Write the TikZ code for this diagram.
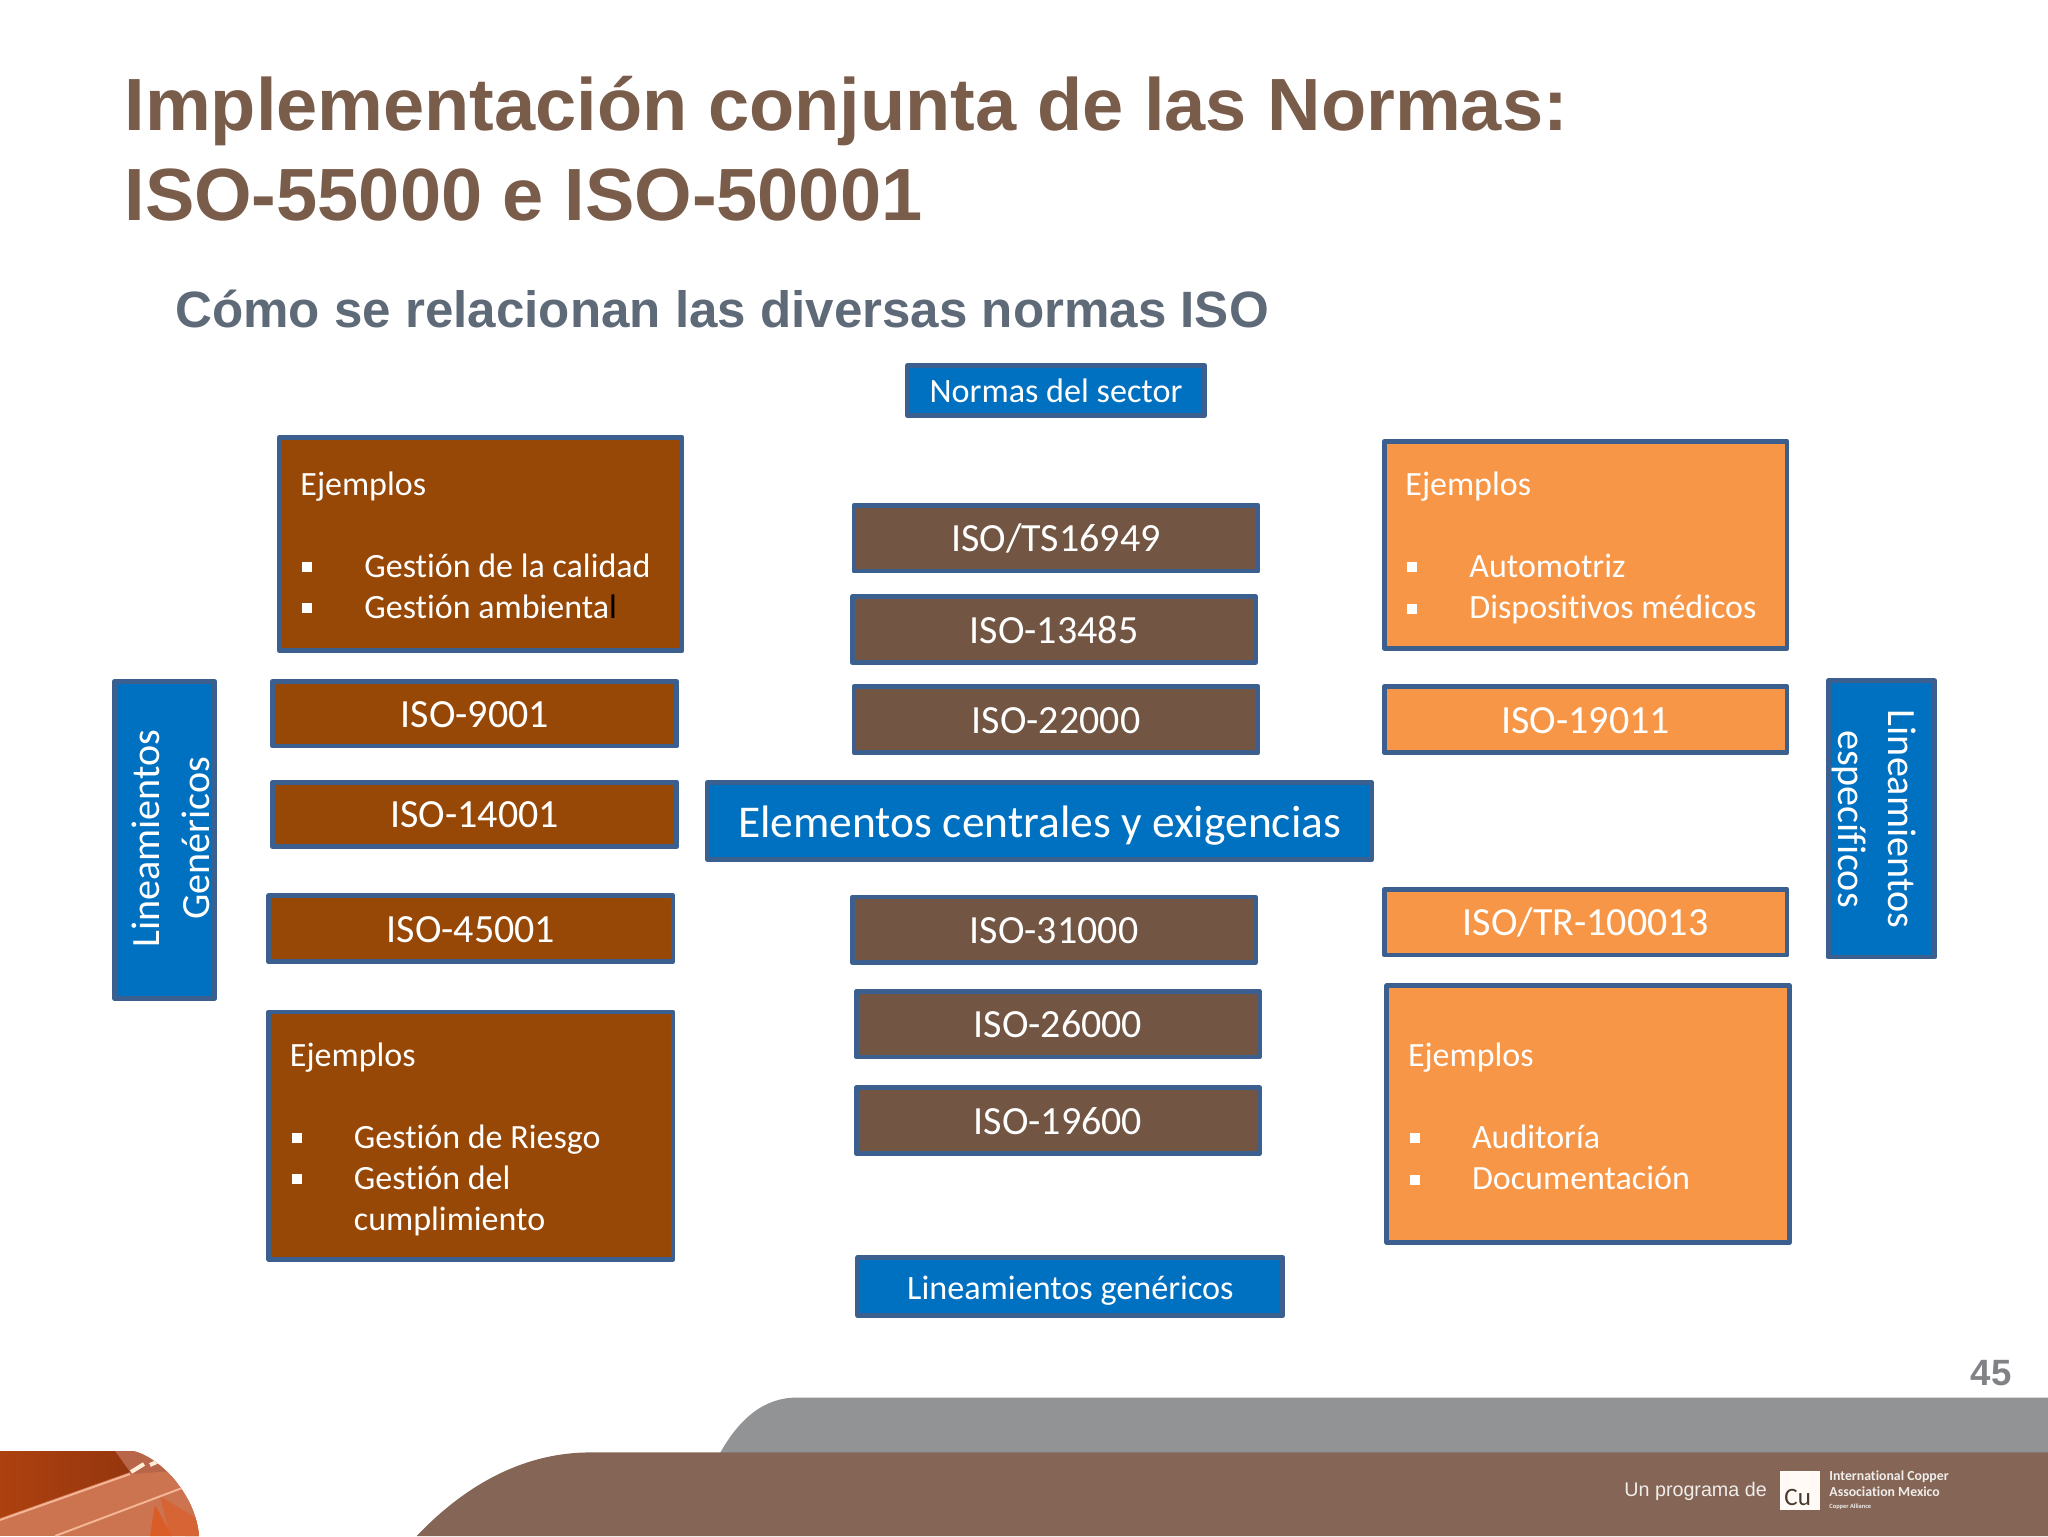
\documentclass[tikz,border=0pt]{standalone}
\usepackage{fontspec}
\setmainfont[Ligatures=NoCommon]{Carlito}
\newfontfamily\arialf{Liberation Sans}
\definecolor{borderblue}{HTML}{3B6090}
\definecolor{boxblue}{HTML}{0070C0}
\definecolor{rust}{HTML}{974806}
\definecolor{midbrown}{HTML}{725643}
\definecolor{orangebox}{HTML}{F79646}
\definecolor{titlebrown}{HTML}{7A5C4B}
\definecolor{subgray}{HTML}{5E6A78}
\definecolor{footbrown}{HTML}{856656}
\definecolor{footgray}{HTML}{929395}
\definecolor{numgray}{HTML}{808285}
\definecolor{copperdark}{HTML}{A63C10}
\definecolor{copperlight}{HTML}{CC7350}
\definecolor{copperpale}{HTML}{B9654A}
\definecolor{copperhot}{HTML}{DD5A22}
\definecolor{copperline}{HTML}{F3B593}
\newcommand{\ux}{0.65306}
\newcommand{\bul}{\makebox[32pt][l]{\hspace{1pt}\rule[2.6pt]{5pt}{5pt}}}
\newcommand{\ind}{\hspace{32pt}}
\newcommand{\boxdrop}{0pt}
\tikzset{
  x=0.65306pt,y=-0.65306pt,
  textdrop/.code={\def\boxdrop{#1}},
  basebox/.style={draw=borderblue,line width=2.4pt,line join=round,text=white,inner sep=0pt,align=center},
  rustbox/.style={basebox,fill=rust},
  brownbox/.style={basebox,fill=midbrown},
  orangecol/.style={basebox,fill=orangebox},
  bluebox/.style={basebox,fill=boxblue},
  isotext/.style={font=\fontsize{20}{24}\selectfont,textdrop=0.3pt},
  smalltext/.style={font=\fontsize{17.07}{21}\selectfont,textdrop=0pt},
  sidetext/.style={font=\fontsize{20.05}{25}\selectfont},
  listtext/.style={font=\fontsize{17}{20.6}\selectfont,align=flush left},
  titletext/.style={font=\arialf\bfseries\fontsize{37}{45}\selectfont,text=titlebrown,anchor=north west,inner sep=0pt,align=left},
  logotext/.style={font=\bfseries\fontsize{6.9}{8}\selectfont,text=white!88!footbrown,anchor=west,inner sep=0pt},
}
% name, x1, y1, x2, y2, style, text
\newcommand{\bx}[7]{%
  \pgfmathsetmacro{\bw}{(#4-#2-3.6)*\ux}%
  \pgfmathsetmacro{\bh}{(#5-#3-3.6)*\ux}%
  \node[#6,minimum width=\bw pt,minimum height=\bh pt] (#1) at ({(#2+#4)/2},{(#3+#5)/2}) {\raisebox{-\boxdrop}[\height][\depth]{#7}};}
% list box: text block set 18 units inside the left edge
\newcommand{\lbx}[7]{%
  \pgfmathsetmacro{\bw}{(#4-#2-3.6)*\ux}%
  \pgfmathsetmacro{\bh}{(#5-#3-3.6)*\ux}%
  \pgfmathsetmacro{\tw}{(#4-#2-36)*\ux}%
  \node[#6,listtext,text width=\tw pt,minimum width=\bw pt,minimum height=\bh pt] (#1) at ({(#2+#4)/2},{(#3+#5)/2}) {#7};}
\begin{document}
\begin{tikzpicture}
\useasboundingbox (0,0) rectangle (1568,1176);
\fill[white] (0,0) rectangle (1568,1176);
% footer
\fill[footgray] (551,1113) .. controls (566,1086) and (585,1070) .. (610,1070) -- (1568,1070) -- (1568,1113) -- cycle;
\fill[footbrown] (319,1176) .. controls (360,1133) and (405,1112) .. (452,1112) -- (1568,1112) -- (1568,1176) -- cycle;
% copper picture, in reference pixels
\begin{scope}[x=0.5pt,y=-0.5pt]
\clip (0,1451) -- (133,1451) .. controls (155,1455) and (195,1490) .. (199,1536) -- (0,1536) -- cycle;
\fill[copperlight] (0,1451) rectangle (200,1536);
\fill[copperpale] (115,1451) -- (200,1451) -- (200,1536) -- (185,1536) -- (190,1485) -- (130,1474) -- cycle;
\fill[copperlight] (130,1474) -- (190,1470) -- (200,1536) -- (55,1536) -- cycle;
\shade[left color=copperdark!92!orange,right color=copperdark!90!black] (0,1451) -- (115,1451) -- (130,1472) -- (0,1518) -- cycle;
\fill[copperhot,opacity=.85] (155,1505) -- (172,1536) -- (150,1536) -- cycle;
\fill[copperhot,opacity=.6] (160,1496) -- (199,1520) -- (199,1536) -- (170,1536) -- cycle;
\draw[copperline,line width=1pt] (0,1520) -- (130,1474);
\draw[copperline,line width=1pt] (55,1536) -- (190,1485);
\draw[white!85!orange,line width=2pt] (131,1472) -- (144,1464);
\draw[white!85!orange,line width=2pt] (150,1465) -- (163,1459);
\end{scope}
% titles
\node[titletext] (title) at (95,58) {Implementación conjunta de las Normas:\\ISO-55000 e ISO-50001};
\node[font=\arialf\bfseries\fontsize{25.55}{32}\selectfont,text=subgray,anchor=base west,inner sep=0pt] (subtitle) at (134,251) {Cómo se relacionan las diversas normas ISO};
% boxes
\bx{normas}{693}{278}{924}{320}{bluebox,smalltext}{Normas del sector}
\lbx{ejA}{212}{333}{524}{500}{rustbox}{\rule{0pt}{13pt}Ejemplos\\[20.6pt]\bul Gestión de la calidad\\\bul Gestión ambienta{\color{black}l}}
\bx{ts}{652}{385}{965}{439}{brownbox,isotext}{ISO/TS16949}
\bx{i13485}{651}{455}{963}{509}{brownbox,isotext}{ISO-13485}
\bx{i22000}{652}{524}{965}{578}{brownbox,isotext}{ISO-22000}
\bx{i9001}{207}{520}{520}{573}{rustbox,isotext}{ISO-9001}
\bx{i14001}{207}{597}{520}{650}{rustbox,isotext}{ISO-14001}
\bx{i45001}{204}{684}{517}{738}{rustbox,isotext}{ISO-45001}
\lbx{ejB}{204}{773}{517}{966}{rustbox}{\rule{0pt}{15.5pt}Ejemplos\\[20.6pt]\bul Gestión de Riesgo\\\bul Gestión del\\\ind cumplimiento}
\bx{centro}{540}{597}{1052}{660}{bluebox,font=\fontsize{22.75}{28}\selectfont,textdrop=2.4pt}{Elementos centrales y exigencias}
\bx{i31000}{651}{685}{963}{739}{brownbox,isotext}{ISO-31000}
\bx{i26000}{654}{757}{966}{811}{brownbox,isotext}{ISO-26000}
\bx{i19600}{654}{831}{966}{885}{brownbox,isotext}{ISO-19600}
\bx{linea}{655}{961}{984}{1009}{bluebox,smalltext,textdrop=2pt}{Lineamientos genéricos}
\lbx{ejC}{1058}{336}{1370}{498}{orangecol}{\rule{0pt}{15pt}Ejemplos\\[20.6pt]\bul Automotriz\\\bul Dispositivos médicos}
\bx{i19011}{1058}{524}{1370}{578}{orangecol,isotext}{ISO-19011}
\bx{tr}{1058}{679}{1370}{733}{orangecol,isotext}{ISO/TR-100013}
\lbx{ejD}{1060}{753}{1372}{953}{orangecol}{\rule{0pt}{14pt}Ejemplos\\[20.6pt]\bul Auditoría\\\bul Documentación}
% side boxes
\node[bluebox,minimum width=77*0.65306pt,minimum height=242.4*0.65306pt] (sideL) at (126,643) {};
\node[sidetext,text=white,rotate=90,align=center,inner sep=0pt] (sideLt) at (130.5,642) {Lineamientos\\Genéricos};
\node[bluebox,minimum width=81.4*0.65306pt,minimum height=211.4*0.65306pt] (sideR) at (1440.5,627) {};
\node[sidetext,text=white,rotate=-90,align=center,inner sep=0pt] (sideRt) at (1435,627) {Lineamientos\\específicos};
% page number and logo, in reference pixels
\begin{scope}[x=0.5pt,y=-0.5pt]
\node[font=\arialf\bfseries\fontsize{18.3}{22}\selectfont,text=numgray,inner sep=0pt] (pagenum) at (1991,1373) {45};
\node[font=\arialf\fontsize{9.85}{12}\selectfont,text=white!88!footbrown,inner sep=0pt,anchor=west] (prog) at (1624,1491) {Un programa de};
\node[fill=white!96!orange,minimum width=20pt,minimum height=19.5pt,inner sep=0pt] (cu) at (1800,1490.5) {};
\node[font=\fontsize{12.5}{14}\selectfont,text=footbrown!55!black,inner sep=0pt,anchor=base west] (cut) at (1784,1505) {Cu};
\node[logotext] (icaA) at (1829,1477) {International Copper};
\node[logotext] (icaB) at (1829,1492) {Association Mexico};
\node[logotext,font=\bfseries\fontsize{3.2}{4}\selectfont] (ca) at (1829,1507) {Copper Alliance};
\end{scope}
\end{tikzpicture}
\end{document}
